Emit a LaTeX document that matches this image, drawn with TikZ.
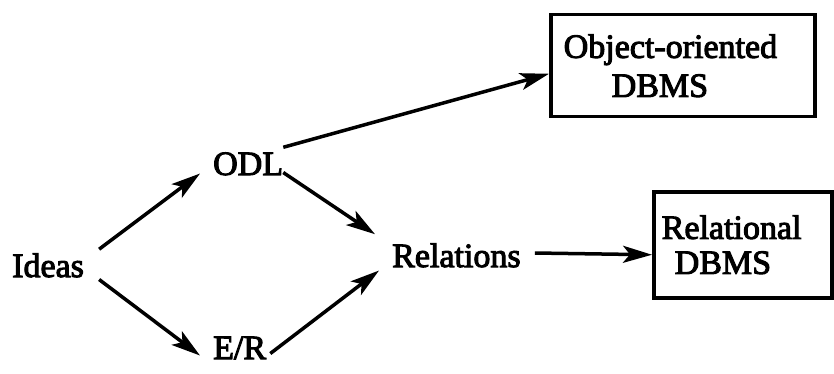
\documentclass[tikz,border=0pt]{standalone}
\usepackage{fontspec}
\setmainfont{Liberation Serif}
\newfontfamily\diagfont[FakeBold=3]{Liberation Serif}
\usetikzlibrary{arrows.meta}

\tikzset{
  lbl/.style={inner sep=0pt, anchor=base west, font=\diagfont\fontsize{34}{39}\selectfont},
  dbbox/.style={draw, line width=3.5pt, rectangle, anchor=north west, align=left, inner ysep=0pt},
  arr/.style={line width=3.5pt, -{Stealth[length=29pt, width=17pt, inset=7pt]}}
}

\begin{document}
\begin{tikzpicture}[x=1pt, y=-1pt]
  \useasboundingbox (0,0) rectangle (834,374);

  % text nodes
  \node[lbl] (ideas) at (12,277) {Ideas};
  \node[lbl] (odl)   at (213,175) {ODL};
  \node[lbl] (er)    at (213,359) {E/R};
  \node[lbl] (rel)   at (392,267) {Relations};

  % database boxes
  \node[dbbox, inner xsep=13pt, text width=238pt, minimum width=264pt, minimum height=102pt,
        font=\diagfont\fontsize{34}{39}\selectfont] (oodb) at (549,13)
        {Object-oriented\\\hspace*{48pt}DBMS};
  \node[dbbox, inner xsep=8pt, text width=162pt, minimum width=178pt, minimum height=106pt,
        font=\diagfont\fontsize{34}{35}\selectfont] (rdb) at (652,190)
        {Relational\\\hspace*{13pt}DBMS};

  % connectors
  \draw[arr] ([shift={(15,-4)}]ideas.north east) -- ([shift={(-13,-2)}]odl.south west);
  \draw[arr] ([shift={(15,2)}]ideas.south east) -- ([shift={(-13,-4)}]er.south west);
  \draw[arr] ([shift={(0,-3)}]odl.south east) -- ([shift={(-17,-9)}]rel.north west);
  \draw[arr] ([shift={(4,-6)}]er.south east) -- ([shift={(-13,3)}]rel.south west);
  \draw[arr] ([shift={(0,-5)}]odl.north east) -- ([shift={(0,8)}]oodb.west);
  \draw[arr] ([shift={(14,-14)}]rel.base east) -- ([shift={(0,10)}]rdb.west);
\end{tikzpicture}
\end{document}
